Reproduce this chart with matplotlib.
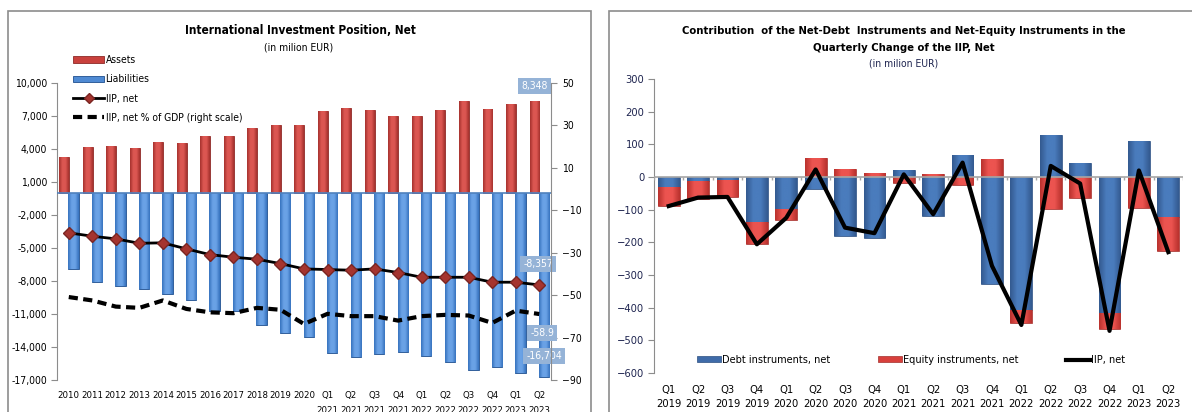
import numpy as np
import matplotlib
matplotlib.use("Agg")
import matplotlib.pyplot as plt
from matplotlib.patches import Patch, Rectangle
from matplotlib.lines import Line2D
from matplotlib.ticker import FuncFormatter
from matplotlib.colors import LinearSegmentedColormap

plt.rcParams["font.family"] = ["DejaVu Sans"]
plt.rcParams["font.stretch"] = "condensed"

# ---- left chart data (in milion EUR / % of GDP)
periods = ["2010", "2011", "2012", "2013", "2014", "2015", "2016", "2017", "2018",
           "2019", "2020", "Q1\n2021", "Q2\n2021", "Q3\n2021", "Q4\n2021",
           "Q1\n2022", "Q2\n2022", "Q3\n2022", "Q4\n2022", "Q1\n2023", "Q2\n2023"]
assets = [3250, 4140, 4260, 4050, 4660, 4530, 5170, 5170, 5870, 6170, 6170,
          7420, 7720, 7510, 6990, 6990, 7510, 8330, 7630, 8120, 8348]
liabilities = [-6900, -8050, -8450, -8690, -9170, -9690, -10690, -10690, -11990,
               -12720, -13120, -14510, -14880, -14610, -14420, -14790, -15330,
               -16060, -15790, -16360, -16704]
iip_net = [-3620, -3930, -4170, -4570, -4530, -5080, -5600, -5840, -6020, -6420,
           -6900, -6960, -7020, -6900, -7230, -7660, -7660, -7660, -8110, -8110,
           -8357]
iip_gdp = [-50.9, -52.5, -55.4, -56.0, -52.5, -56.5, -58.1, -58.5, -56.0, -56.9,
           -63.6, -58.8, -59.9, -59.9, -62.0, -59.9, -59.3, -59.6, -63.1, -57.3,
           -58.9]

# ---- right chart data
quarters = ["Q1\n2019", "Q2\n2019", "Q3\n2019", "Q4\n2019", "Q1\n2020", "Q2\n2020",
            "Q3\n2020", "Q4\n2020", "Q1\n2021", "Q2\n2021", "Q3\n2021", "Q4\n2021",
            "Q1\n2022", "Q2\n2022", "Q3\n2022", "Q4\n2022", "Q1\n2023", "Q2\n2023"]
debt = [-30, -12, -10, -138, -99, -38, -181, -186, 21, -119, 66, -328, -407, 128,
        44, -417, 110, -121]
equity = [-59, -54, -50, -66, -33, 59, 26, 13, -17, 8, -26, 56, -39, -97, -65,
          -49, -94, -107]
iip_change = [-89, -63, -61, -206, -125, 23, -155, -172, 8, -114, 44, -272, -453,
              34, -20, -471, 20, -230]

W, H = 1192, 412
fig = plt.figure(figsize=(W / 100, H / 100), dpi=100)


def fx(px):
    return px / W


def fy(py):
    return 1 - py / H


def shade(axis, bars, dark, light):
    # bevel-like horizontal gradient inside each bar
    cmap = LinearSegmentedColormap.from_list("g", [dark, light, light, dark])
    grad = np.linspace(0, 1, 64).reshape(1, -1)
    for p in bars:
        x0, y0 = p.get_xy()
        w, h = p.get_width(), p.get_height()
        if h == 0:
            continue
        im = axis.imshow(grad, extent=[x0, x0 + w, y0, y0 + h], aspect="auto",
                         cmap=cmap, interpolation="bicubic", zorder=p.get_zorder())
        im.set_clip_path(p)


# panel frames
for x0, x1 in [(8, 591), (609, 1200)]:
    fig.add_artist(Rectangle((fx(x0), -0.1), fx(x1 - x0), fy(10.5) + 0.1,
                             transform=fig.transFigure, fill=False,
                             edgecolor="#8c8c8c", lw=1.2))

RED = "#c9413d"
RED_EDGE = "#8e2a27"
BLUE_L = "#4f8ad3"
BLUE_L_EDGE = "#1f4f8f"
FS = 7.5

# ================= left chart =================
ax = fig.add_axes([fx(57), fy(380), fx(551 - 57), fy(83) - fy(380)])
x = np.arange(len(periods))
ba = ax.bar(x - 0.2, assets, width=0.42, color=RED, edgecolor=RED_EDGE, lw=0.6,
            zorder=2)
bl = ax.bar(x + 0.2, liabilities, width=0.44, color=BLUE_L, edgecolor=BLUE_L_EDGE,
            lw=0.6, zorder=2)
shade(ax, ba, "#a3302c", "#dc5752")
shade(ax, bl, "#3571bd", "#6aa2e6")
ax.axhline(0, color="#4f81bd", lw=1.2, zorder=3)
ax.plot(x, iip_net, color="black", lw=2, marker="D", ms=6.5, mfc="#a5342f",
        mec="#7a2522", zorder=5)
ax.set_xlim(-0.5, len(periods) - 0.5)
ax.set_ylim(-17000, 10000)
ax.set_yticks(np.arange(-17000, 10001, 3000))
ax.yaxis.set_major_formatter(FuncFormatter(lambda v, p: f"{int(v):,}"))
ax.set_xticks(x)
ax.set_xticklabels(periods, fontsize=6.8, linespacing=1.85)
ax.tick_params(axis="x", length=0, pad=8)
ax.tick_params(axis="y", labelsize=FS, length=4, color="#8c8c8c", pad=3)
for s in ["top", "bottom", "right"]:
    ax.spines[s].set_visible(False)
ax.spines["left"].set_color("#8c8c8c")

ax2 = ax.twinx()
ax2.plot(x, iip_gdp, color="black", lw=3, ls=(0, (2.2, 1.3)), zorder=5)
ax2.set_ylim(-90, 50)
ax2.set_yticks(np.arange(-90, 51, 20))
ax2.tick_params(axis="y", labelsize=FS, length=4, color="#8c8c8c", pad=4)
for s in ["top", "bottom", "left"]:
    ax2.spines[s].set_visible(False)
ax2.spines["right"].set_color("#8c8c8c")

box = dict(boxstyle="square,pad=0.3", fc="#95b3d7", ec="none")
last = len(periods) - 1
ax.annotate(f"{assets[-1]:,}", (last - 0.2, assets[-1]), xytext=(0, 15),
            textcoords="offset pixels", ha="center", va="center", color="white",
            fontsize=FS, bbox=box, zorder=6)
ax.annotate(f"{iip_net[-1]:,}", (last, iip_net[-1]), xytext=(-1, 21),
            textcoords="offset pixels", ha="center", va="center", color="white",
            fontsize=FS, bbox=box, zorder=6)
ax2.annotate(f"{iip_gdp[-1]}", (last, iip_gdp[-1]), xytext=(3, -19),
             textcoords="offset pixels", ha="center", va="center", color="white",
             fontsize=FS, bbox=box, zorder=6)
ax.annotate(f"{liabilities[-1]:,}", (last + 0.2, liabilities[-1]), xytext=(0, 21),
            textcoords="offset pixels", ha="center", va="center", color="white",
            fontsize=FS, bbox=box, zorder=6)

handles = [Patch(fc=RED, ec=RED_EDGE, lw=0.6),
           Patch(fc=BLUE_L, ec=BLUE_L_EDGE, lw=0.6),
           Line2D([], [], color="black", lw=2, marker="D", ms=5, mfc="#a5342f",
                  mec="#7a2522"),
           Line2D([], [], color="black", lw=3, ls=(0, (2.2, 1.3)))]
ax2.legend(handles, ["Assets", "Liabilities", "IIP, net",
                     "IIP, net % of GDP (right scale)"],
           loc="upper left", bbox_to_anchor=(fx(68), fy(50)),
           bbox_transform=fig.transFigure, frameon=False, fontsize=7.4,
           handlelength=3.0, handleheight=0.6, handletextpad=0.15,
           labelspacing=0.9, borderpad=0)

fig.text(fx(300), fy(31), "International Investment Position, Net",
         ha="center", va="center", fontsize=8.5, fontweight="bold")
fig.text(fx(299), fy(47), "(in milion EUR)", ha="center", va="center", fontsize=FS)

# ================= right chart =================
BLUE_R = "#3f6ba9"
BLUE_R_EDGE = "#2c4f80"
RED_R = "#d8403c"
RED_R_EDGE = "#a32f2c"

bx = fig.add_axes([fx(654), fy(373), fx(1183 - 654), fy(79) - fy(373)])
q = np.arange(len(quarters))
debt_a = np.array(debt)
eq_a = np.array(equity)
eq_bottom = np.where(np.sign(eq_a) == np.sign(debt_a), debt_a, 0)
b1 = bx.bar(q, debt_a, width=0.74, color=BLUE_R, edgecolor=BLUE_R_EDGE, lw=0.5,
            zorder=2)
b2 = bx.bar(q, eq_a, bottom=eq_bottom, width=0.74, color=RED_R, edgecolor=RED_R_EDGE,
            lw=0.5, zorder=2)
shade(bx, b1, "#33598f", "#4a7cbd")
shade(bx, b2, "#b8312d", "#ec5450")
l1, = bx.plot(q, iip_change, color="black", lw=3, zorder=4)
bx.axhline(0, color="#a6a6a6", lw=1.2, zorder=3)
bounds = np.arange(len(quarters) + 1) - 0.5
bx.vlines(bounds, -8, 0, color="#a6a6a6", lw=1, zorder=3)
bx.set_xlim(-0.5, len(quarters) - 0.5)
bx.set_ylim(-600, 300)
bx.set_yticks(np.arange(-600, 301, 100))
bx.set_xticks(q)
bx.set_xticklabels(quarters, fontsize=8, linespacing=1.45)
bx.tick_params(axis="x", length=0, pad=9)
bx.tick_params(axis="y", labelsize=FS + 0.5, length=4, color="#8c8c8c", pad=3,
               labelcolor="#1f2550")
for s in ["top", "bottom", "right"]:
    bx.spines[s].set_visible(False)
bx.spines["left"].set_color("#8c8c8c")
bx.legend([b1, b2, l1], ["Debt instruments, net", "Equity instruments, net", "IIP, net"],
          loc="center left", bbox_to_anchor=(fx(692), fy(360)),
          bbox_transform=fig.transFigure, ncol=3, frameon=False, fontsize=7.8,
          handlelength=2.2, handleheight=0.5, handletextpad=0.1,
          columnspacing=4.4, borderpad=0)

fig.text(fx(904), fy(31),
         "Contribution  of the Net-Debt  Instruments and Net-Equity Instruments in the",
         ha="center", va="center", fontsize=8.1, fontweight="bold")
fig.text(fx(904), fy(48), "Quarterly Change of the IIP, Net",
         ha="center", va="center", fontsize=8.1, fontweight="bold")
fig.text(fx(904), fy(64), "(in milion EUR)", ha="center", va="center", fontsize=FS,
         color="#1f2550")

fig.savefig("out.png", dpi=100)
